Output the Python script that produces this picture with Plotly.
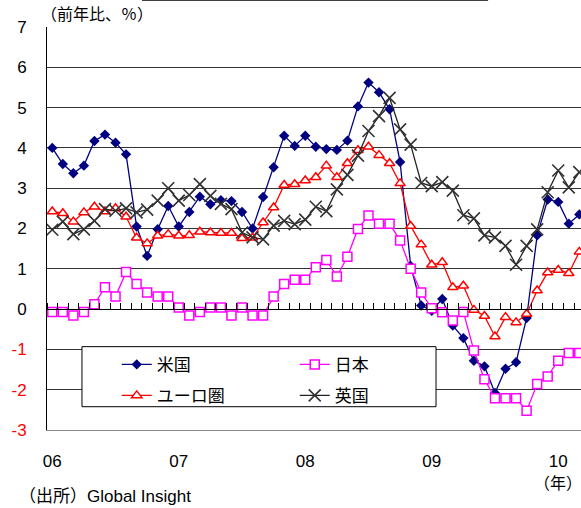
import plotly.graph_objects as go

months = list(range(51))  # Jan 2006 .. Mar 2010
year_ticks = [0, 12, 24, 36, 48]
year_labels = ["06", "07", "08", "09", "10"]

us = [4.0, 3.6, 3.37, 3.56, 4.17, 4.33, 4.13, 3.84, 2.05, 1.32, 1.98, 2.56,
      2.05, 2.41, 2.79, 2.6, 2.7, 2.68, 2.41, 2.0, 2.78, 3.52, 4.3, 4.05,
      4.3, 4.03, 3.97, 3.95, 4.18, 5.03, 5.62, 5.38, 4.96, 3.65, 1.07, 0.09,
      -0.04, 0.25, -0.41, -0.72, -1.28, -1.42, -2.08, -1.48, -1.32, -0.22, 1.83, 2.72,
      2.66, 2.12, 2.35]
japan = [-0.07, -0.07, -0.16, -0.07, 0.12, 0.54, 0.31, 0.92, 0.62, 0.41, 0.31, 0.31,
         0.04, -0.16, -0.07, 0.04, 0.04, -0.16, 0.04, -0.16, -0.16, 0.31, 0.62, 0.73,
         0.73, 1.04, 1.22, 0.81, 1.3, 1.99, 2.32, 2.12, 2.12, 1.7, 1.0, 0.41,
         0.02, -0.08, -0.28, -0.07, -1.03, -1.74, -2.21, -2.21, -2.21, -2.52, -1.86, -1.67,
         -1.28, -1.09, -1.09]
euro = [2.42, 2.38, 2.17, 2.4, 2.54, 2.42, 2.5, 2.29, 1.77, 1.63, 1.82, 1.86,
        1.82, 1.83, 1.92, 1.9, 1.89, 1.89, 1.76, 1.77, 2.15, 2.52, 3.08, 3.1,
        3.19, 3.27, 3.56, 3.27, 3.62, 3.94, 4.03, 3.82, 3.62, 3.12, 2.06, 1.6,
        1.1, 1.16, 0.54, 0.58, -0.02, -0.17, -0.68, -0.2, -0.33, -0.12, 0.46, 0.91,
        0.97, 0.89, 1.42]
uk = [1.97, 2.17, 1.86, 1.98, 2.19, 2.48, 2.44, 2.5, 2.4, 2.47, 2.69, 3.0,
      2.69, 2.83, 3.1, 2.81, 2.61, 2.48, 1.9, 1.78, 1.73, 2.07, 2.19, 2.11,
      2.22, 2.54, 2.43, 2.97, 3.33, 3.81, 4.42, 4.79, 5.24, 4.46, 4.08, 3.13,
      3.05, 3.15, 2.94, 2.33, 2.25, 1.83, 1.78, 1.57, 1.1, 1.57, 1.98, 2.9,
      3.44, 3.02, 3.4]

y_ticks = [7, 6, 5, 4, 3, 2, 1, 0, -1, -2, -3]
y_labels = [str(v) if v >= 0 else '<span style="color:#ff0000">%d</span>' % v for v in y_ticks]

FONT = "Liberation Sans, Arial, Noto Sans CJK JP, sans-serif"
JFONT = "Noto Sans CJK JP, Liberation Sans, sans-serif"

fig = go.Figure()
fig.add_trace(go.Scatter(x=months, y=us, name="米国", mode="lines+markers", legend="legend",
                         line=dict(color="#000080", width=1.3),
                         marker=dict(symbol="diamond", size=8, color="#000080")))
fig.add_trace(go.Scatter(x=months, y=japan, name="日本", mode="lines+markers", legend="legend",
                         line=dict(color="#ff00ff", width=1.3),
                         marker=dict(symbol="square", size=9, color="white",
                                     line=dict(color="#ff00ff", width=1.5))))
fig.add_trace(go.Scatter(x=months, y=euro, name="ユーロ圏", mode="lines+markers", legend="legend2",
                         line=dict(color="#ff0000", width=1.3),
                         marker=dict(symbol="triangle-up", size=9, color="white",
                                     line=dict(color="#ff0000", width=1.5))))
fig.add_trace(go.Scatter(x=months, y=uk, name="英国", mode="lines+markers", legend="legend2",
                         line=dict(color="#222222", width=1.3),
                         marker=dict(symbol="x-thin", size=12,
                                     line=dict(color="#333333", width=1.6))))
fig.add_trace(go.Scatter(x=[], y=[], xaxis="x2", showlegend=False, hoverinfo="skip"))

leg_common = dict(orientation="h", xanchor="left", yanchor="middle",
                  bgcolor="rgba(0,0,0,0)", borderwidth=0,
                  font=dict(family=JFONT, size=17), itemwidth=30,
                  entrywidth=133, entrywidthmode="pixels", traceorder="normal")

xr = [-0.5, 50.16]
fig.update_layout(
    width=581, height=508,
    margin=dict(l=47, r=0, t=27, b=78, autoexpand=False),
    paper_bgcolor="white", plot_bgcolor="white",
    font=dict(family=FONT, size=17, color="black"),
    showlegend=True,
    legend=dict(x=0.1306, y=0.1617, **leg_common),
    legend2=dict(x=0.1306, y=0.0848, **leg_common),
    xaxis=dict(range=xr, tickmode="array", tickvals=year_ticks, ticktext=year_labels,
               showgrid=False, zeroline=False, ticks="", ticklabelstandoff=16,
               showline=True, linecolor="#888888", linewidth=1, automargin=False,
               tickfont=dict(size=17)),
    xaxis2=dict(range=xr, overlaying="x", anchor="free", position=0.3, side="top",
                showgrid=False, zeroline=False, showticklabels=False, automargin=False,
                ticks="outside", ticklen=6, tickcolor="black", tickwidth=1,
                tick0=-0.5, dtick=1, showline=True, linecolor="black", linewidth=1),
    yaxis=dict(range=[-3, 7], tickmode="array", tickvals=y_ticks, ticktext=y_labels,
               showgrid=True, gridcolor="#333333", gridwidth=1, zeroline=False,
               showline=True, linecolor="black", linewidth=1, ticks="", automargin=False,
               ticklabelstandoff=16, tickfont=dict(size=17)),
)

# legend frame
fig.add_shape(type="rect", xref="paper", yref="paper", x0=0.0655, x1=0.7285, y0=0.0578, y1=0.2068,
              line=dict(color="black", width=1), fillcolor="white", layer="above")

fig.add_annotation(text="（前年比、％）", xref="paper", yref="paper", x=-0.0156, y=1.0,
                   xanchor="left", yanchor="bottom", showarrow=False,
                   font=dict(family=JFONT, size=16))
fig.add_annotation(text="（年）", xref="paper", yref="paper", x=0.957, y=-0.13,
                   xanchor="center", yanchor="middle", showarrow=False,
                   font=dict(family=JFONT, size=16))
fig.add_annotation(text="（出所）Global Insight", xref="paper", yref="paper", x=-0.057, y=-0.166,
                   xanchor="left", yanchor="middle", showarrow=False,
                   font=dict(family=FONT, size=17))
fig.add_shape(type="line", xref="paper", yref="paper", x0=0.178, x1=0.826, y0=1.067, y1=1.067,
              line=dict(color="black", width=1.5))

fig.write_html("out.html", post_script="document.body.style.margin='0';",
               config={"displayModeBar": False})
